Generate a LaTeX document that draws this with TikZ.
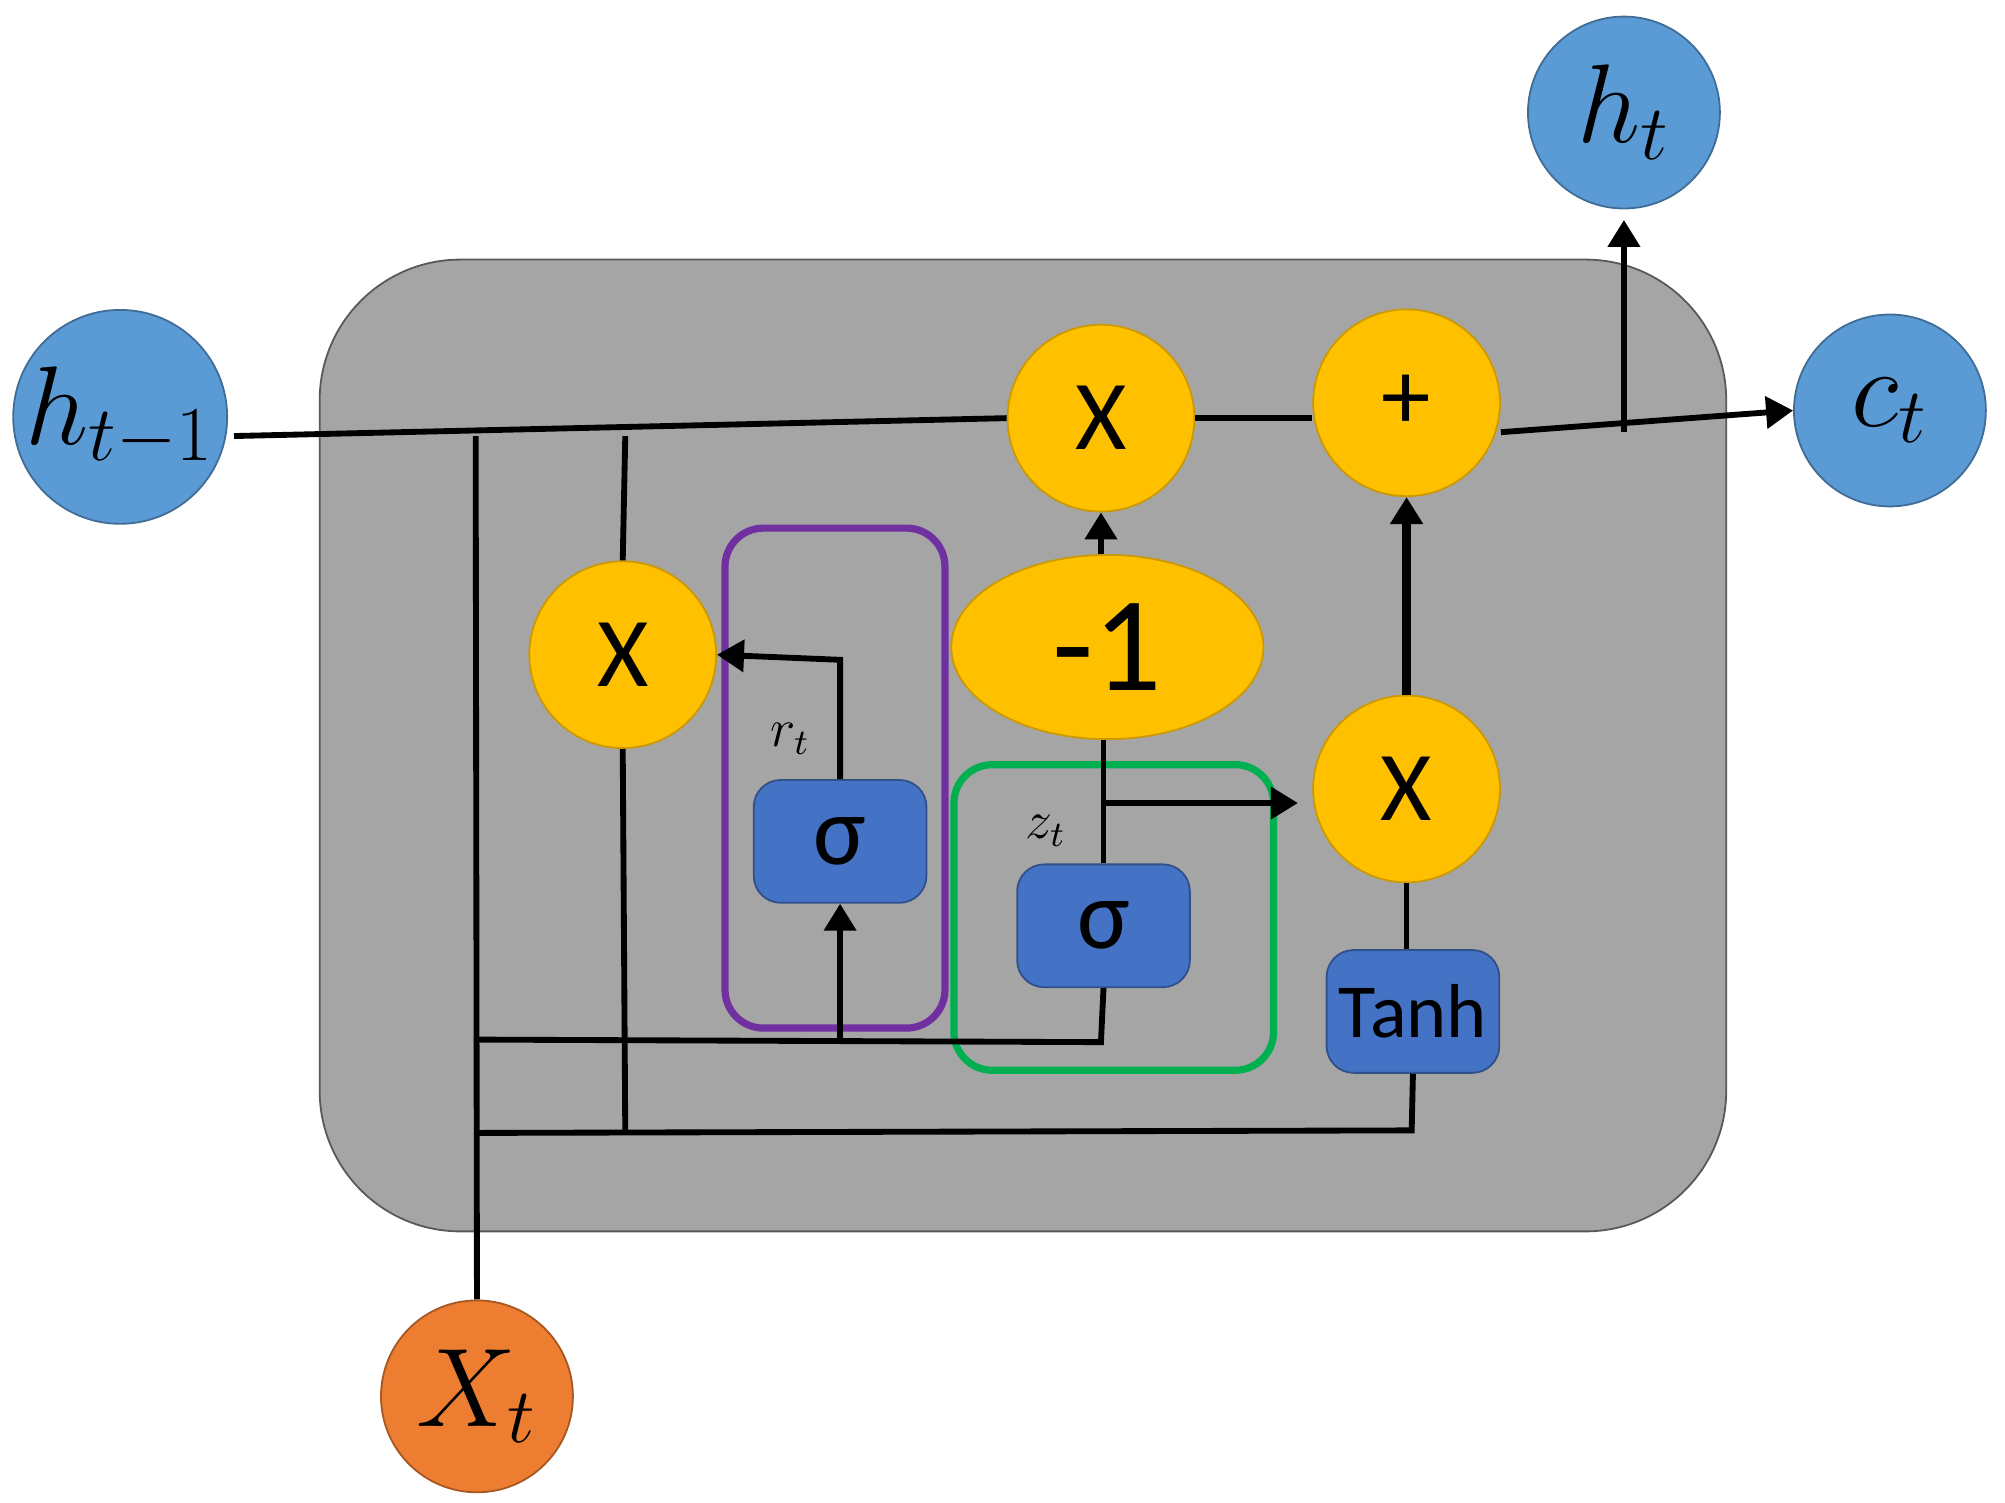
\documentclass[tikz,border=0pt]{standalone}
\usepackage{fontspec}
\setsansfont{Carlito}
\usetikzlibrary{shapes.geometric,arrows.meta}
\definecolor{cellgray}{HTML}{A5A5A5}
\definecolor{gateyellow}{HTML}{FFC000}
\definecolor{ioblue}{HTML}{5B9BD5}
\definecolor{boxblue}{HTML}{4472C4}
\definecolor{xorange}{HTML}{ED7D31}
\definecolor{rpurple}{HTML}{7030A0}
\definecolor{zgreen}{HTML}{00B050}
\begin{document}
\begin{tikzpicture}
            [x=0.01cm, y=-0.01cm,
            io/.style={circle, draw=ioblue!70!black, fill=ioblue, minimum size=1.5cm, inner sep=0pt, font=\fontsize{26}{28}\selectfont},
            op/.style={circle, draw=gateyellow!80!black, fill=gateyellow, minimum size=1.46cm, inner sep=0pt, font=\sffamily\fontsize{22}{24}\selectfont},
            act/.style={rectangle, rounded corners=6pt, draw=boxblue!70!black, fill=boxblue, minimum width=1.35cm, minimum height=0.96cm, inner sep=0pt, font=\sffamily\fontsize{22}{24}\selectfont},
            wire/.style={line width=1.3pt, black},
            flow/.style={wire, -{Triangle[length=6pt, width=7pt]}}]

            \useasboundingbox (0,0) rectangle (1568,1175);

            % cell body
            \draw[draw=gray!70!black, fill=cellgray, rounded corners=1.1cm] (250,203) rectangle (1350,963);

            % gate frames
            \draw[rpurple, line width=1.6pt, rounded corners=0.3cm] (567,413) rectangle (739,804);
            \draw[zgreen, line width=1.6pt, rounded corners=0.3cm] (746,598) rectangle (996,837);

            % inputs and outputs
            \node[io] (hprev) at (94,326) {$h_{t-1}$};
            \node[io] (hnext) at (1270,88) {$h_t$};
            \node[io] (cnext) at (1478,321) {$c_t$};
            \node[io, fill=xorange, draw=xorange!70!black] (xin) at (373,1092) {$X_t$};

            % operations
            \node[op] (mulTop) at (861,327) {X};
            \node[op] (add) at (1100,315) {+};
            \node[op] (mulR) at (487,512) {X};
            \node[op] (mulZ) at (1100,617) {X};
            \node[ellipse, draw=gateyellow!80!black, fill=gateyellow, minimum width=2.44cm, minimum height=1.44cm, font=\sffamily\fontsize{30}{32}\selectfont] (minus) at (866,506) {-1};

            % activations
            \node[act] (sigR) at (657,658) {σ};
            \node[act] (sigZ) at (863,724) {σ};
            \node[act, font=\sffamily\fontsize{17}{19}\selectfont] (tanh) at (1105,791) {Tanh};

            % labels
            \node[font=\large] (rlabel) at (618,578) {$r_t$};
            \node[font=\large] (zlabel) at (818,650) {$z_t$};

            % junctions
            \coordinate (hstart) at (183,341);
            \coordinate (jA) at (372,341);
            \coordinate (jB) at (489,341);
            \coordinate (jOut) at (1270,338);
            \coordinate (jLow) at (373,813);
            \coordinate (jRin) at (657,813);
            \coordinate (jZin) at (861,815);
            \coordinate (jBot) at (373,886);
            \coordinate (jBotR) at (489,886);
            \coordinate (jTanh) at (1104,884);
            \coordinate (jRup) at (657,516);
            \coordinate (jZ) at (861,628);

            % main line
            \draw[wire] (hstart) -- (mulTop.west);
            \draw[wire] (mulTop.east) -- (add.west |- mulTop.east);
            \draw[flow] (add.east |- jOut) -- (cnext.west);
            \draw[flow] (jOut) -- (hnext.south |- 0,172);

            % input wiring
            \draw[wire] (xin.north) -- (jA);
            \draw[wire] (jB) -- (mulR.north);
            \draw[wire] (mulR.south) -- (jBotR);
            \draw[wire] (jLow) -- (jZin) -- (sigZ.south);
            \draw[wire] (jBot) -- (jTanh) -- (tanh.south);
            \draw[flow] (jRin) -- (sigR.south);

            % reset gate
            \draw[flow] (sigR.north) -- (jRup) -- (mulR.east);

            % update gate
            \draw[wire] (sigZ.north) -- (minus.south -| sigZ.north);
            \draw[flow] (jZ) -- (1015,628);
            \draw[flow] (minus.north -| mulTop.south) -- (mulTop.south);
            \draw[wire] (tanh.north -| mulZ.south) -- (mulZ.south);
            \draw[flow, line width=2pt] (mulZ.north) -- (add.south);

        \end{tikzpicture}
\end{document}
